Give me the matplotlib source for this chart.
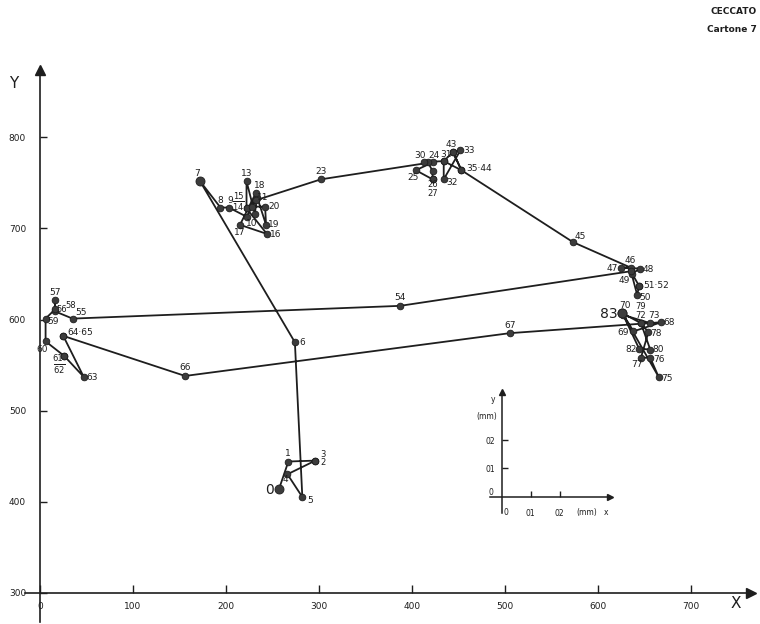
import matplotlib
matplotlib.use('Agg')
import matplotlib.pyplot as plt

plt.rcParams['font.family'] = ['DejaVu Sans']
plt.rcParams['mathtext.default'] = 'regular'

# ---- data: trajectory points in drawing order ----
point_ids = ['0', '1', '2', '3', '4', '5', '6', '7', '8', '9', '10', '11', '12', '13', '14', '15',
             '16', '17', '18', '19', '20', '21', '22', '23', '24', '25', '26', '27', '28', '29',
             '30', '31', '32', '33', '34', '35', '36', '43', '44', '45', '46', '47', '48', '49',
             '50', '51', '52', '53', '54', '55', '56', '57', '58', '59', '60', '61', '62', '63',
             '64', '65', '66', '67', '68', '69', '70', '72', '73', '74', '75', '76', '77', '78',
             '79', '80', '82', '83']
x_vals = [257, 267, 296, 296, 266, 282, 274, 172, 194, 203, 222, 233, 231, 222, 222, 222,
          244, 215, 232, 243, 242, 228, 232, 302, 423, 404, 422, 422, 422, 417,
          413, 434, 434, 452, 444, 453, 434, 444, 453, 573, 635, 625, 645, 636,
          642, 644, 644, 635, 387, 35, 16, 16, 16, 6, 6, 26, 26, 47,
          25, 25, 156, 505, 668, 638, 626, 646, 656, 627, 665, 656, 646, 654,
          646, 656, 644, 626]
y_vals = [414, 444, 445, 445, 430, 405, 575, 752, 723, 723, 713, 733, 716, 752, 722, 722,
          694, 704, 739, 704, 724, 724, 731, 754, 773, 764, 754, 754, 763, 773,
          773, 774, 754, 786, 784, 764, 774, 784, 764, 685, 657, 657, 656, 650,
          627, 637, 637, 653, 615, 601, 609, 621, 611, 601, 576, 560, 560, 537,
          582, 582, 538, 585, 597, 587, 607, 596, 596, 605, 537, 558, 558, 586,
          596, 567, 568, 607]

x_ticks = [0, 100, 200, 300, 400, 500, 600, 700]
y_ticks = [300, 400, 500, 600, 700, 800]
inset_ticks = [0.1, 0.2]
inset_tick_labels = ['01', '02']
header_lines = ['CECCATO', 'Cartone 7']

# label text -> anchor point id ; offsets (pixels, image convention: +dy = down), style
labels = [
    ('0', '0', -10, 1, 'center', 10), ('1', '1', -1, -8, 'center', 6.5),
    ('3', '3', 8, -6, 'center', 6), ('2', '2', 8, 2, 'center', 6),
    ('4', '4', -2, 5, 'center', 6.5), ('5', '5', 8, 3, 'center', 6.5),
    ('6', '6', 7, 0, 'center', 6.5), ('7', '7', -3, -8, 'center', 6.5),
    ('8', '8', 0, -7, 'center', 6.5), ('9', '9', 1, -7, 'center', 6.5),
    ('10', '10', 5, 7, 'center', 6.5), ('11', '11', 6, -1, 'center', 6.5),
    ('13', '13', 0, -8, 'center', 6.5), ('15', '15', -8, -12, 'center', 6),
    (r'$\overline{14}$', '14', -8, -2, 'center', 6), ('16', '16', 9, 1, 'center', 6.5),
    ('17', '17', 0, 8, 'center', 6.5), ('18', '18', 4, -7, 'center', 6.5),
    ('19', '19', 8, 0, 'center', 6.5), ('20', '20', 9, 0, 'center', 6.5),
    ('23', '23', 0, -8, 'center', 6.5), ('24', '24', 0, -7, 'center', 6.5),
    ('25', '25', -3, 7, 'center', 6.5), ('26', '26', 0, 5, 'center', 6),
    ('27', '27', 0, 14, 'center', 6), ('30', '30', -4, -7, 'center', 6.5),
    ('31', '31', 2, -7, 'center', 6.5), ('32', '32', 8, 3, 'center', 6.5),
    ('33', '33', 9, 0, 'center', 6.5), ('43', '43', -2, -8, 'center', 6.5),
    ('35·44', '35', 5, -2, 'left', 6.5), ('45', '45', 7, -6, 'center', 6.5),
    ('46', '46', 0, -7, 'center', 6.5), ('47', '47', -9, 1, 'center', 6.5),
    ('48', '48', 8, 1, 'center', 6.5), ('49', '49', -7, 7, 'center', 6.5),
    ('50', '50', 8, 3, 'center', 6.5), ('51·52', '51', 4, 0, 'left', 6.5),
    ('54', '54', 0, -8, 'center', 6.5), ('55', '55', 8, -6, 'center', 6.5),
    ('56', '56', 7, -2, 'center', 6), ('58', '56', 16, -6, 'center', 6),
    ('57', '57', 0, -8, 'center', 6.5), ('59', '59', 7, 3, 'center', 6.5),
    ('60', '60', -3, 8, 'center', 6.5), ('61', '61', -6, 3, 'center', 6),
    (r'$\overline{62}$', '62', -5, 13, 'center', 6), ('63', '63', 8, 1, 'center', 6.5),
    ('64·65', '64', 4, -3, 'left', 6.5), ('66', '66', 0, -8, 'center', 6.5),
    ('67', '67', 0, -8, 'center', 6.5), ('68', '68', 8, 0, 'center', 6.5),
    ('69', '69', -10, 1, 'center', 6.5), ('70', '70', 3, -8, 'center', 6.5),
    ('83', '83', -14, 1, 'center', 10), ('79', '79', 0, -17, 'center', 6),
    ('72', '72', 0, -8, 'center', 6), ('73', '73', 4, -8, 'center', 6.5),
    ('78', '78', 8, 1, 'center', 6.5), ('82', '82', -8, 1, 'center', 6.5),
    ('80', '80', 8, 0, 'center', 6.5), ('77', '77', -4, 7, 'center', 6.5),
    ('76', '76', 9, 2, 'center', 6.5), ('75', '75', 8, 2, 'center', 6.5),
]
big = {'0', '7', '70', '83'}

ink = '#1e1e1e'
fig = plt.figure(figsize=(7.6, 6.24), dpi=100)
ax = fig.add_axes([0, 0, 1, 1])
ax.set_xlim(-43, 774)
ax.set_ylim(265.5, 951)
ax.patch.set_alpha(0)

ax.plot(x_vals, y_vals, color=ink, lw=1.3, zorder=2, solid_joinstyle='miter')
for pid, xv, yv in zip(point_ids, x_vals, y_vals):
    ms = 6.5 if pid in big else 4.8
    ax.plot(xv, yv, 'o', ms=ms, color='#3c3c3c', mec=ink, mew=0.6, zorder=3)

pos = {pid: (xv, yv) for pid, xv, yv in zip(point_ids, x_vals, y_vals)}
for txt, pid, dx, dy, ha, fs in labels:
    ax.annotate(txt, pos[pid], xytext=(dx, -dy), textcoords='offset pixels',
                ha=ha, va='center', fontsize=fs, color=ink, zorder=4)

# axes
for s in ['top', 'right']:
    ax.spines[s].set_visible(False)
ax.spines['left'].set_position(('data', 0))
ax.spines['bottom'].set_position(('data', 300))
ax.spines['left'].set_bounds(268, 872)
ax.spines['bottom'].set_bounds(-16, 762)
for s in ['left', 'bottom']:
    ax.spines[s].set_linewidth(1.2)
    ax.spines[s].set_color(ink)
ax.plot(0, 874, marker='^', ms=7, color=ink, clip_on=False)
ax.plot(764, 300, marker='>', ms=7, color=ink, clip_on=False)
ax.set_xticks(x_ticks)
ax.set_yticks(y_ticks)
ax.tick_params(axis='x', direction='in', length=6, width=1, labelsize=6.5, pad=7, colors=ink)
ax.tick_params(axis='y', direction='in', length=5, width=1, labelsize=6.5, pad=10, colors=ink)
ax.text(736 / 760, 1 - 604 / 624, 'X', transform=ax.transAxes, fontsize=11,
        ha='center', va='center', color=ink)
ax.text(14 / 760, 1 - 84 / 624, 'Y', transform=ax.transAxes, fontsize=11,
        ha='center', va='center', color=ink)

fig.text(757 / 760, 1 - 11 / 624, header_lines[0], ha='right', va='center',
         fontsize=6.5, weight='bold', color=ink)
fig.text(757 / 760, 1 - 29 / 624, header_lines[1], ha='right', va='center',
         fontsize=6.5, weight='bold', color=ink)

# inset scale axes
axi = fig.add_axes([490 / 760, 1 - 513 / 624, 124 / 760, 126.3 / 624])
axi.set_xlim(-0.04, 0.387)
axi.set_ylim(-0.058, 0.39)
axi.patch.set_alpha(0)
for s in ['top', 'right']:
    axi.spines[s].set_visible(False)
axi.spines['left'].set_position(('data', 0))
axi.spines['bottom'].set_position(('data', 0))
axi.spines['left'].set_bounds(-0.058, 0.37)
axi.spines['bottom'].set_bounds(-0.04, 0.37)
for s in ['left', 'bottom']:
    axi.spines[s].set_linewidth(1.1)
    axi.spines[s].set_color(ink)
axi.plot(0, 0.372, marker='^', ms=5, color=ink, clip_on=False)
axi.plot(0.372, 0, marker='>', ms=5, color=ink, clip_on=False)
axi.set_xticks(inset_ticks)
axi.set_xticklabels(inset_tick_labels)
axi.set_yticks(inset_ticks)
axi.set_yticklabels(inset_tick_labels)
axi.tick_params(axis='x', direction='in', length=4, width=1, labelsize=5.5, pad=9, colors=ink)
axi.tick_params(axis='y', direction='in', length=4, width=1, labelsize=5.5, pad=5, colors=ink)
tkw = dict(fontsize=5.5, color=ink, ha='center', va='center', clip_on=False)
axi.text(0.014, -0.057, '0', **tkw)
axi.text(0.293, -0.057, '(mm)', **tkw)
axi.text(0.36, -0.057, 'x', **tkw)
axi.text(-0.037, 0.013, '0', **tkw)
axi.text(-0.05, 0.285, '(mm)', **tkw)
axi.text(-0.03, 0.345, 'y', **tkw)

fig.savefig('out.png', dpi=100)
